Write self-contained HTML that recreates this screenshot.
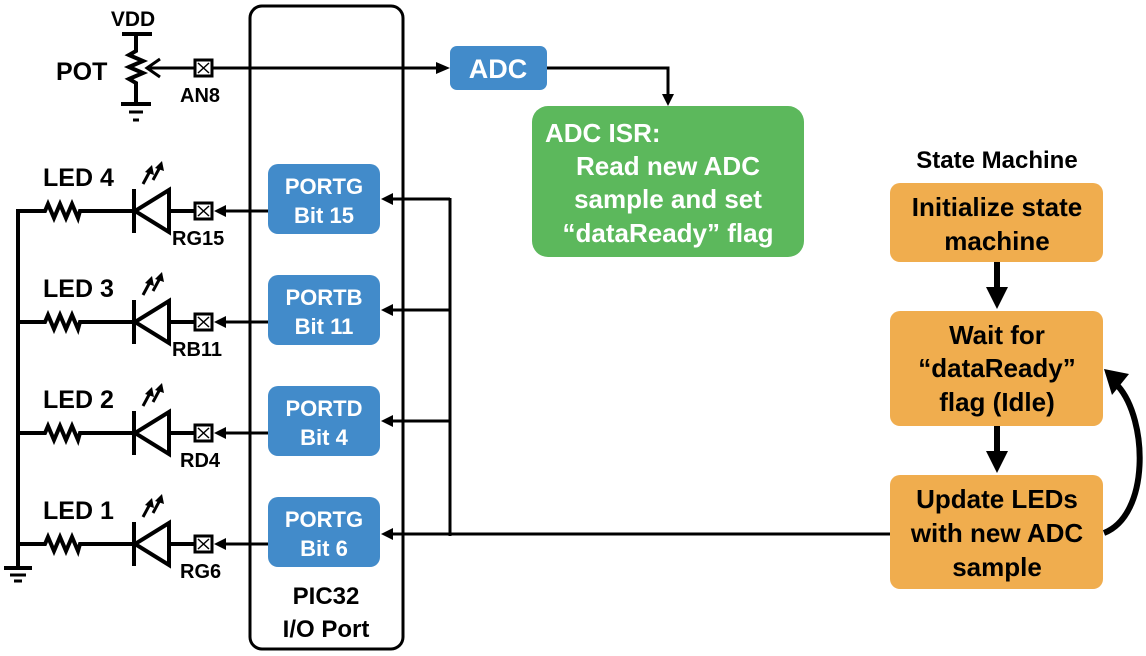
<!DOCTYPE html>
<html><head><meta charset="utf-8"><style>
body{margin:0;background:#fff}
svg{display:block}
</style></head><body>
<svg width="1146" height="656" viewBox="0 0 1146 656" xmlns="http://www.w3.org/2000/svg" font-family="Liberation Sans, Arial, sans-serif" font-weight="bold">
<defs>
<g id="led">
<path d="M18,0 H45 L48,-7 L54,7 L60,-7 L66,7 L72,-7 L78,7 L80,0 H134" fill="none" stroke="#000" stroke-width="4"/>
<line x1="134" y1="-22" x2="134" y2="22" stroke="#000" stroke-width="4"/>
<path d="M169,-21 L169,21 L135,0 Z" fill="none" stroke="#000" stroke-width="4"/>
<line x1="169" y1="0" x2="194" y2="0" stroke="#000" stroke-width="4"/>
<rect x="195" y="-8" width="17" height="16" fill="#fff" stroke="#000" stroke-width="3"/>
<path d="M198,-5 L209,5 M209,-5 L198,5" stroke="#000" stroke-width="1.5"/>
<line x1="268" y1="0" x2="224" y2="0" stroke="#000" stroke-width="3"/>
<path d="M214,0 L226,-6 L226,6 Z" fill="#000"/>
<line x1="143" y1="-27" x2="150" y2="-40" stroke="#000" stroke-width="3"/>
<path d="M152,-46 L145,-39 L154,-36 Z" fill="#000"/>
<line x1="153" y1="-31" x2="160" y2="-44" stroke="#000" stroke-width="3"/>
<path d="M162,-50 L155,-43 L164,-40 Z" fill="#000"/>
</g>
</defs>

<rect x="250" y="6" width="153" height="643" rx="12" fill="none" stroke="#000" stroke-width="3"/>
<text x="326" y="604" font-size="24" text-anchor="middle">PIC32</text>
<text x="326" y="637" font-size="24" text-anchor="middle">I/O Port</text>

<text x="133" y="26" font-size="21" text-anchor="middle">VDD</text>
<line x1="122" y1="34" x2="152" y2="34" stroke="#000" stroke-width="4"/>
<path d="M136,34 V51 L129,55 L143,61 L129,67 L143,73 L129,79 L136,83 V102" fill="none" stroke="#000" stroke-width="4"/>
<line x1="121" y1="104" x2="151" y2="104" stroke="#000" stroke-width="4"/>
<line x1="129" y1="112" x2="143" y2="112" stroke="#000" stroke-width="3"/>
<line x1="133" y1="120" x2="139" y2="120" stroke="#000" stroke-width="3"/>
<text x="56" y="80" font-size="25">POT</text>
<line x1="440" y1="68" x2="150" y2="68" stroke="#000" stroke-width="3"/>
<path d="M160,59 L147,68 L160,77" fill="none" stroke="#000" stroke-width="3"/>
<path d="M450,68 L436,62 L436,74 Z" fill="#000"/>
<rect x="195" y="60" width="17" height="16" fill="#fff" stroke="#000" stroke-width="3"/>
<path d="M198,63 L209,73 M209,63 L198,73" stroke="#000" stroke-width="1.5"/>
<text x="180" y="102" font-size="20">AN8</text>

<rect x="450" y="46" width="97" height="44" rx="7" fill="#428bca"/>
<text x="498" y="78" font-size="27" fill="#fff" text-anchor="middle">ADC</text>
<path d="M547,68 H668 V95" fill="none" stroke="#000" stroke-width="3"/>
<path d="M668,106 L662,94 L674,94 Z" fill="#000"/>

<rect x="532" y="106" width="272" height="151" rx="16" fill="#5cb85c"/>
<g fill="#fff" font-size="26">
<text x="545" y="142">ADC ISR:</text>
<text x="668" y="175" text-anchor="middle">Read new ADC</text>
<text x="668" y="208" text-anchor="middle">sample and set</text>
<text x="668" y="242" text-anchor="middle">“dataReady” flag</text>
</g>

<use href="#led" transform="translate(0,211)"/>
<use href="#led" transform="translate(0,322)"/>
<use href="#led" transform="translate(0,433)"/>
<use href="#led" transform="translate(0,544)"/>
<line x1="18" y1="209" x2="18" y2="568" stroke="#000" stroke-width="4"/>
<line x1="4" y1="568" x2="32" y2="568" stroke="#000" stroke-width="4"/>
<line x1="10" y1="575" x2="26" y2="575" stroke="#000" stroke-width="3"/>
<line x1="14" y1="581" x2="22" y2="581" stroke="#000" stroke-width="3"/>
<g font-size="25">
<text x="43" y="186">LED 4</text>
<text x="43" y="297">LED 3</text>
<text x="43" y="408">LED 2</text>
<text x="43" y="519">LED 1</text>
</g>
<g font-size="20">
<text x="172" y="245">RG15</text>
<text x="172" y="356">RB11</text>
<text x="180" y="467">RD4</text>
<text x="180" y="578">RG6</text>
</g>

<g fill="#428bca">
<rect x="268" y="164" width="112" height="70" rx="10"/>
<rect x="268" y="275" width="112" height="70" rx="10"/>
<rect x="268" y="386" width="112" height="70" rx="10"/>
<rect x="268" y="497" width="112" height="70" rx="10"/>
</g>
<g fill="#fff" font-size="22" text-anchor="middle">
<text x="324" y="194">PORTG</text><text x="324" y="223">Bit 15</text>
<text x="324" y="305">PORTB</text><text x="324" y="334">Bit 11</text>
<text x="324" y="416">PORTD</text><text x="324" y="445">Bit 4</text>
<text x="324" y="527">PORTG</text><text x="324" y="556">Bit 6</text>
</g>

<line x1="450" y1="198" x2="450" y2="536" stroke="#000" stroke-width="3"/>
<g stroke="#000" stroke-width="3">
<line x1="450" y1="199" x2="392" y2="199"/>
<line x1="450" y1="310" x2="392" y2="310"/>
<line x1="450" y1="421" x2="392" y2="421"/>
<line x1="890" y1="534" x2="392" y2="534"/>
</g>
<g fill="#000">
<path d="M381,199 L393,193 L393,205 Z"/>
<path d="M381,310 L393,304 L393,316 Z"/>
<path d="M381,421 L393,415 L393,427 Z"/>
<path d="M381,534 L393,528 L393,540 Z"/>
</g>

<text x="997" y="168" font-size="24" text-anchor="middle">State Machine</text>
<g fill="#f0ad4e">
<rect x="890" y="183" width="213" height="79" rx="10"/>
<rect x="890" y="311" width="213" height="115" rx="10"/>
<rect x="890" y="475" width="213" height="114" rx="10"/>
</g>
<g font-size="26" text-anchor="middle" fill="#000">
<text x="997" y="216">Initialize state</text>
<text x="997" y="250">machine</text>
<text x="997" y="344">Wait for</text>
<text x="997" y="377">“dataReady”</text>
<text x="997" y="411">flag (Idle)</text>
<text x="997" y="508">Update LEDs</text>
<text x="997" y="542">with new ADC</text>
<text x="997" y="576">sample</text>
</g>
<line x1="997" y1="262" x2="997" y2="290" stroke="#000" stroke-width="6"/>
<path d="M997,309 L986,287 L1008,287 Z" fill="#000"/>
<line x1="997" y1="426" x2="997" y2="454" stroke="#000" stroke-width="6"/>
<path d="M997,473 L986,451 L1008,451 Z" fill="#000"/>
<path d="M1104,533 C1150,515 1148,420 1118,386" fill="none" stroke="#000" stroke-width="6"/>
<path d="M1104,369 L1129,374 L1112,395 Z" fill="#000"/>
</svg>
</body></html>
